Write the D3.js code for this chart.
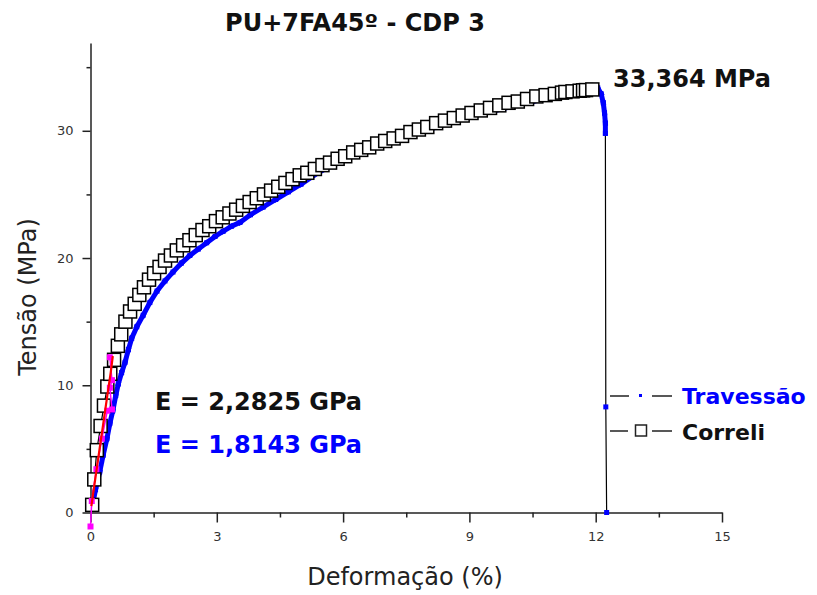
<!DOCTYPE html>
<html>
<head>
<meta charset="utf-8">
<script src="https://cdn.jsdelivr.net/npm/d3@7"></script>
<style>
  body { margin: 0; background: #fff; }
  svg { display: block; }
</style>
</head>
<body>
<script>
// Correli (DIC) readings: strain %, stress MPa
const correliX = [0.04, 0.09, 0.15, 0.24, 0.32, 0.40, 0.47, 0.56, 0.65, 0.73, 0.83, 0.94, 1.05, 1.16, 1.27, 1.39, 1.51, 1.64, 1.77, 1.91,
  2.05, 2.20, 2.35, 2.50, 2.66, 2.82, 2.98, 3.14, 3.30, 3.46, 3.62, 3.78, 3.95, 4.12, 4.29, 4.46, 4.63, 4.80, 4.97, 5.15,
  5.33, 5.51, 5.69, 5.87, 6.05, 6.24, 6.43, 6.62, 6.81, 7.00, 7.20, 7.40, 7.60, 7.80, 8.00, 8.21, 8.42, 8.63, 8.84, 9.05,
  9.27, 9.49, 9.71, 9.93, 10.15, 10.37, 10.59, 10.81, 11.03, 11.20, 11.28, 11.45, 11.62, 11.70, 11.77, 11.92];
const correliY = [0.6, 2.6, 4.9, 6.8, 8.4, 9.9, 10.9, 12.0, 13.1, 14.0, 15.0, 15.8, 16.4, 17.1, 17.7, 18.3, 18.8, 19.3, 19.8, 20.2,
  20.6, 21.0, 21.4, 21.8, 22.2, 22.5, 22.9, 23.2, 23.5, 23.8, 24.1, 24.4, 24.7, 25.0, 25.3, 25.6, 25.9, 26.2, 26.5, 26.7,
  27.0, 27.3, 27.5, 27.8, 28.0, 28.3, 28.5, 28.7, 29.0, 29.2, 29.4, 29.6, 29.9, 30.1, 30.3, 30.6, 30.8, 31.0, 31.2, 31.4,
  31.6, 31.8, 32.0, 32.2, 32.3, 32.5, 32.7, 32.8, 32.9, 33.0, 33.05, 33.1, 33.15, 33.18, 33.2, 33.25];

// Travessão (crosshead) readings
const travX = [0.05, 0.12, 0.22, 0.30, 0.39, 0.46, 0.53, 0.60, 0.66, 0.74, 0.82, 0.90, 0.98, 1.10, 1.25, 1.41, 1.58, 1.77, 1.96, 2.16,
  2.36, 2.56, 2.76, 2.96, 3.15, 3.35, 3.55, 3.80, 4.10, 4.40, 4.70, 5.00, 5.40, 5.80, 6.20, 6.60, 7.00, 7.50, 8.00, 8.50,
  9.00, 9.50, 10.00, 10.50, 11.00, 11.50, 11.80, 11.95, 12.05, 12.13, 12.18, 12.21, 12.23, 12.23, 12.24, 12.26];
const travY = [0.6, 1.8, 3.2, 4.5, 5.8, 7.0, 8.0, 9.2, 10.1, 11.0, 11.8, 12.8, 13.7, 14.6, 15.5, 16.5, 17.4, 18.2, 18.9, 19.6,
  20.2, 20.7, 21.2, 21.7, 22.1, 22.5, 22.8, 23.4, 24.0, 24.6, 25.2, 25.8, 26.7, 27.4, 28.0, 28.5, 28.95, 29.55, 30.05, 30.6,
  31.1, 31.5, 31.9, 32.3, 32.65, 32.9, 33.0, 33.2, 33.364, 32.9, 32.2, 31.4, 30.6, 29.8, 8.3, 0.0];

// linear-fit overlays (elastic region)
const fitCorreliX = [0.02, 0.12, 0.22, 0.30, 0.40, 0.48, 0.53];
const fitCorreliY = [0.5, 2.8, 5.1, 6.9, 9.2, 11.0, 12.3];
const fitTravX = [0.0, 0.03, 0.14, 0.27, 0.40, 0.51, 0.46, 0.51, 0.46];
const fitTravY = [-1.1, 0.9, 3.4, 5.8, 8.0, 8.1, 9.8, 10.4, 12.2];

const xTicks = [0, 3, 6, 9, 12, 15];
const xMinor = [1.5, 4.5, 7.5, 10.5, 13.5];
const yTicks = [0, 10, 20, 30];
const yMinor = [5, 15, 25, 35];

const width = 817, height = 595;
const font = "'DejaVu Sans', Verdana, sans-serif";

const x = d3.scaleLinear().domain([0, 15]).range([90.5, 722]);
const y = d3.scaleLinear().domain([0, 36.9]).range([512.5, 43]);

const svg = d3.select("body").append("svg")
    .attr("width", width)
    .attr("height", height)
    .attr("font-family", font);

// axes
const gx = svg.append("g")
    .attr("transform", `translate(0,${y(0)})`)
    .call(d3.axisBottom(x).tickValues(xTicks).tickSize(10).tickSizeOuter(0).tickPadding(9));
gx.append("g").call(d3.axisBottom(x).tickValues(xMinor).tickSize(5).tickFormat(""))
    .select(".domain").remove();

const gy = svg.append("g")
    .attr("transform", `translate(${x(0)},0)`)
    .call(d3.axisLeft(y).tickValues(yTicks).tickSize(8).tickSizeOuter(0).tickPadding(9));
gy.append("g").call(d3.axisLeft(y).tickValues(yMinor).tickSize(4).tickFormat(""))
    .select(".domain").remove();

svg.selectAll(".domain").attr("stroke", "#222").attr("stroke-width", 1.5);
svg.selectAll(".tick line").attr("stroke", "#222").attr("stroke-width", 1.5);
svg.selectAll(".tick text").attr("font-size", 13).attr("fill", "#333").attr("font-family", font);

// Travessão: black connecting line, dense blue markers
const trav = travX.map((v, i) => [v, travY[i]]);
const line = d3.line().x(d => x(d[0])).y(d => y(d[1]));

svg.append("path")
    .attr("d", line(trav))
    .attr("fill", "none")
    .attr("stroke", "#000")
    .attr("stroke-width", 1.2);

// where samples are dense the markers merge into a band
const band = [];
for (let i = 1; i < trav.length; i++) {
  const dx = x(trav[i][0]) - x(trav[i - 1][0]), dy = y(trav[i][1]) - y(trav[i - 1][1]);
  if (Math.hypot(dx, dy) < 40) band.push([trav[i - 1], trav[i]]);
}
svg.append("g")
    .attr("stroke", "#0000ff")
    .attr("stroke-width", 5)
    .attr("stroke-linecap", "square")
  .selectAll("path")
  .data(band)
  .join("path")
    .attr("d", d => line(d));

svg.append("g")
    .attr("fill", "#0000ff")
  .selectAll("rect")
  .data(trav)
  .join("rect")
    .attr("x", d => x(d[0]) - 2.5)
    .attr("y", d => y(d[1]) - 2.5)
    .attr("width", 5)
    .attr("height", 5);

// Correli: open squares joined by a line
const corr = correliX.map((v, i) => [v, correliY[i]]);
svg.append("path")
    .attr("d", line(corr))
    .attr("fill", "none")
    .attr("stroke", "#000")
    .attr("stroke-width", 1.2);

svg.append("g")
  .selectAll("rect")
  .data(corr)
  .join("rect")
    .attr("x", d => x(d[0]) - 6.5)
    .attr("y", d => y(d[1]) - 6.5)
    .attr("width", 13)
    .attr("height", 13)
    .attr("fill", "#fff")
    .attr("stroke", "#000")
    .attr("stroke-width", 1.5);

// fits
const fitT = fitTravX.map((v, i) => [v, fitTravY[i]]);
svg.append("path")
    .attr("d", line(fitT))
    .attr("fill", "none")
    .attr("stroke", "#ff00ff")
    .attr("stroke-width", 1.5);
svg.append("g")
    .attr("fill", "#ff00ff")
  .selectAll("rect")
  .data(fitT)
  .join("rect")
    .attr("x", d => x(d[0]) - 3)
    .attr("y", d => y(d[1]) - 3)
    .attr("width", 6)
    .attr("height", 6);

const fitC = fitCorreliX.map((v, i) => [v, fitCorreliY[i]]);
svg.append("path")
    .attr("d", line(fitC))
    .attr("fill", "none")
    .attr("stroke", "#ff0000")
    .attr("stroke-width", 2.2);

// titles
svg.append("text")
    .attr("x", 355).attr("y", 31)
    .attr("text-anchor", "middle")
    .attr("font-size", 24).attr("font-weight", "bold")
    .attr("fill", "#111")
    .text("PU+7FA45º - CDP 3");

svg.append("text")
    .attr("x", 405).attr("y", 585)
    .attr("text-anchor", "middle")
    .attr("font-size", 24)
    .attr("fill", "#222")
    .text("Deformação (%)");

svg.append("text")
    .attr("transform", "translate(36,297) rotate(-90)")
    .attr("text-anchor", "middle")
    .attr("font-size", 24)
    .attr("fill", "#222")
    .text("Tensão (MPa)");

// annotations
svg.append("text")
    .attr("x", 613).attr("y", 87)
    .attr("font-size", 24).attr("font-weight", "bold")
    .attr("fill", "#111")
    .text("33,364 MPa");

svg.append("text")
    .attr("x", 155).attr("y", 410)
    .attr("font-size", 24).attr("font-weight", "bold")
    .attr("fill", "#111")
    .text("E = 2,2825 GPa");

svg.append("text")
    .attr("x", 155).attr("y", 453)
    .attr("font-size", 24).attr("font-weight", "bold")
    .attr("fill", "#0000ff")
    .text("E = 1,8143 GPa");

// legend
const lg = svg.append("g").attr("font-size", 22).attr("font-weight", "bold");
lg.append("path").attr("d", "M610,396H629M652,396H672").attr("stroke", "#222").attr("stroke-width", 1.5);
lg.append("rect").attr("x", 639).attr("y", 394).attr("width", 3).attr("height", 3).attr("fill", "#0000ff");
lg.append("text").attr("x", 682).attr("y", 404).attr("fill", "#0000ff").text("Travessão");

lg.append("path").attr("d", "M610,431H628M652,431H672").attr("stroke", "#222").attr("stroke-width", 1.5);
lg.append("rect").attr("x", 635.5).attr("y", 425).attr("width", 11).attr("height", 11)
    .attr("fill", "#fff").attr("stroke", "#222").attr("stroke-width", 1.5);
lg.append("text").attr("x", 682).attr("y", 440).attr("fill", "#111").text("Correli");
</script>
</body>
</html>
